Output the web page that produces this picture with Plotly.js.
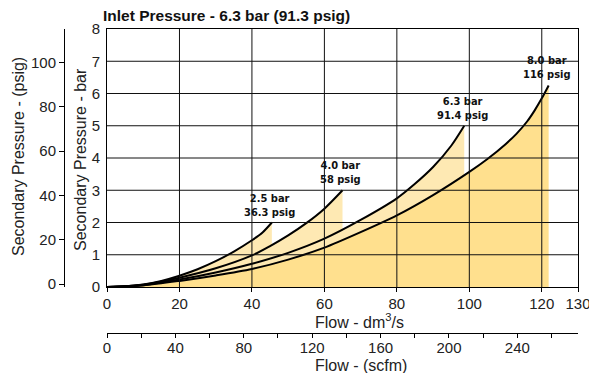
<!DOCTYPE html>
<html>
<head>
<meta charset="utf-8">
<script src="https://cdn.plot.ly/plotly-3.0.1.min.js"></script>
<style>html,body{margin:0;padding:0;background:#fff;}#chart{width:589px;height:373px;}</style>
</head>
<body>
<div id="chart"></div>
<script>
// Flow (dm3/s) and secondary pressure (bar) for each set pressure curve
const flow25 = [0, 5, 10, 15, 20, 25, 30, 35, 40, 43, 45.5];
const pres25 = [0, 0.02, 0.08, 0.19, 0.35, 0.55, 0.8, 1.1, 1.45, 1.7, 2.0];
const flow40 = [0, 10, 20, 30, 40, 45, 50, 55, 60, 65];
const pres40 = [0, 0.07, 0.29, 0.58, 0.98, 1.27, 1.6, 1.98, 2.43, 3.0];
const flow63 = [0, 10, 20, 30, 40, 50, 60, 70, 80, 85, 90, 95, 98.6];
const pres63 = [0, 0.06, 0.23, 0.45, 0.72, 1.06, 1.5, 2.08, 2.75, 3.2, 3.72, 4.38, 5.0];
const flow80 = [0, 10, 20, 30, 40, 50, 60, 70, 80, 90, 100, 105, 110, 113, 116, 118, 120, 121.9];
const pres80 = [0, 0.05, 0.19, 0.36, 0.56, 0.85, 1.22, 1.7, 2.22, 2.85, 3.57, 3.97, 4.43, 4.75, 5.14, 5.47, 5.85, 6.25];

const labelBar = ['2.5 bar', '4.0 bar', '6.3 bar', '8.0 bar'];
const labelPsig = ['36.3 psig', '58 psig', '91.4 psig', '116 psig'];

// Axis ticks
const flowTicks = [0, 20, 40, 60, 80, 100, 120, 130];
const gridFlow = [20, 40, 60, 80, 100, 120];
const barTicks = [0, 1, 2, 3, 4, 5, 6, 7, 8];
const gridBar = [1, 2, 3, 4, 5, 6, 7];
const psigTicks = [0, 20, 40, 60, 80, 100];
const scfmTicks = [0, 40, 80, 120, 160, 200, 240];
const scfmMinor = [20, 60, 100, 140, 180, 220, 260];

const curves = [[flow25, pres25], [flow40, pres40], [flow63, pres63], [flow80, pres80]];
const LIGHT = '#FEE9B3';
const DARK = '#FFE08E';
const FONT = 'Liberation Sans, Arial, Helvetica, sans-serif';
const NARROW = 'DejaVu Sans Condensed, Liberation Sans Narrow, Arial Narrow, sans-serif';

const traces = [];
curves.forEach((c, i) => {
  traces.push({
    x: c[0], y: c[1], type: 'scatter', mode: 'lines', fill: 'tozeroy',
    fillcolor: i === 3 ? DARK : LIGHT,
    line: {width: 0, shape: 'spline', smoothing: 0.8},
    hoverinfo: 'skip', showlegend: false
  });
});
curves.forEach((c) => {
  traces.push({
    x: c[0], y: c[1], type: 'scatter', mode: 'lines',
    line: {color: '#000', width: 2, shape: 'spline', smoothing: 0.8},
    showlegend: false
  });
});
// empty trace so the secondary (psig / scfm) axes get drawn
traces.push({x: [], y: [], type: 'scatter', mode: 'lines', xaxis: 'x2', yaxis: 'y2', showlegend: false, hoverinfo: 'skip'});

const shapes = [];
gridFlow.forEach(v => shapes.push({type: 'line', xref: 'x', yref: 'y domain', x0: v, x1: v, y0: 0, y1: 1, line: {color: '#111', width: 1}, layer: 'above'}));
gridBar.forEach(v => shapes.push({type: 'line', xref: 'x domain', yref: 'y', x0: 0, x1: 1, y0: v, y1: v, line: {color: '#111', width: 1}, layer: 'above'}));

const annotations = [];
curves.forEach((c, i) => {
  const n = c[0].length - 1;
  annotations.push({
    x: c[0][n], y: c[1][n], xref: 'x', yref: 'y', showarrow: false,
    text: '<b>' + labelBar[i] + '</b><br><b>' + labelPsig[i] + '</b>',
    xanchor: 'center', yanchor: 'bottom', xshift: -2, yshift: 2,
    font: {family: NARROW, size: 11, color: '#111'}
  });
});
annotations.push({text: 'Flow - dm<sup>3</sup>/s', xref: 'paper', yref: 'paper', x: 0.616, y: 0.1386, showarrow: false, xanchor: 'center', yanchor: 'middle', font: {family: FONT, size: 16, color: '#222'}});
annotations.push({text: 'Flow - (scfm)', xref: 'paper', yref: 'paper', x: 0.6188, y: 0.008, showarrow: false, xanchor: 'center', yanchor: 'middle', font: {family: FONT, size: 16, color: '#222'}});
annotations.push({text: 'Secondary Pressure - (psig)', xref: 'paper', yref: 'paper', x: 0.0141, y: 0.6224, showarrow: false, textangle: -90, xanchor: 'center', yanchor: 'middle', font: {family: FONT, size: 16, color: '#222'}});
annotations.push({text: 'Secondary Pressure - bar', xref: 'paper', yref: 'paper', x: 0.1232, y: 0.6165, showarrow: false, textangle: -90, xanchor: 'center', yanchor: 'middle', font: {family: FONT, size: 16, color: '#222'}});

const layout = {
  width: 589, height: 373,
  margin: {l: 10, r: 11, t: 29, b: 5, pad: 0},
  paper_bgcolor: '#fff', plot_bgcolor: '#fff',
  showlegend: false,
  font: {family: FONT, size: 15, color: '#222'},
  title: {text: '<b>Inlet Pressure - 6.3 bar (91.3 psig)</b>', xref: 'paper', x: 0.1637, xanchor: 'left', yref: 'container', y: 0.957, yanchor: 'middle', font: {family: FONT, size: 15.5, color: '#111'}},
  xaxis: {
    domain: [0.1708, 1], range: [0, 130], tickvals: flowTicks, ticks: 'outside', ticklen: 4, tickcolor: '#000',
    showline: true, linecolor: '#000', linewidth: 1, mirror: true, showgrid: false, zeroline: false,
    tickfont: {size: 15}, ticklabeloverflow: 'allow', ticklabelstandoff: -1, fixedrange: true
  },
  yaxis: {
    domain: [0.2389, 1], range: [0, 8], tickvals: barTicks, ticks: '', showline: true, linecolor: '#000', linewidth: 1,
    mirror: true, showgrid: false, zeroline: false, tickfont: {size: 15}, ticklabelstandoff: 3, fixedrange: true
  },
  yaxis2: {
    overlaying: 'y', anchor: 'free', side: 'left', position: 0.0951, range: [-1.36, 115.2], tickvals: psigTicks,
    ticks: 'outside', ticklen: 5, tickcolor: '#000', showline: true, linecolor: '#000', linewidth: 1,
    showgrid: false, zeroline: false, tickfont: {size: 15}, fixedrange: true
  },
  xaxis2: {
    overlaying: 'x', anchor: 'free', side: 'bottom', position: 0.1041, range: [0, 275.46], tickvals: scfmTicks,
    ticks: 'outside', ticklen: 4, tickcolor: '#000', showline: true, linecolor: '#000', linewidth: 1,
    minor: {tickmode: 'array', tickvals: scfmMinor, ticks: 'outside', ticklen: 4, tickcolor: '#000', showgrid: false},
    showgrid: false, zeroline: false, tickfont: {size: 15}, ticklabelstandoff: -3, fixedrange: true
  },
  shapes: shapes,
  annotations: annotations
};

Plotly.newPlot('chart', traces, layout, {staticPlot: true, displayModeBar: false});
</script>
</body>
</html>
